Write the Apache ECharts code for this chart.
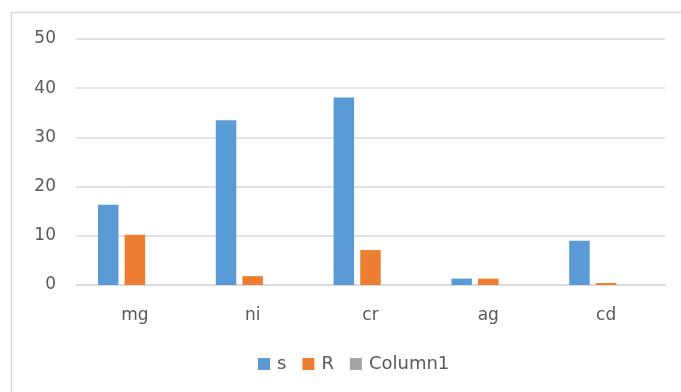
<!DOCTYPE html>
<html>
<head>
<meta charset="utf-8">
<script src="https://cdn.jsdelivr.net/npm/echarts@6/dist/echarts.min.js"></script>
<style>
  html, body { margin: 0; padding: 0; background: #ffffff; }
  #chart { width: 681px; height: 392px; }
</style>
</head>
<body>
<div id="chart"></div>
<script>
// Element categories and measured series
const categories = ['mg', 'ni', 'cr', 'ag', 'cd'];
const sValues = [16.3, 33.5, 38.1, 1.3, 9.0];
const rValues = [10.2, 1.8, 7.1, 1.3, 0.4];
const column1Values = [null, null, null, null, null];
const yTicks = { min: 0, max: 50, step: 10 };

const textColor = '#595959';
const gridColor = '#d9d9d9';
const fontFamily = 'DejaVu Sans, sans-serif';

const chart = echarts.init(document.getElementById('chart'), null, { renderer: 'canvas' });

function barSeries(name, data, color) {
  return {
    name: name,
    type: 'bar',
    data: data,
    barWidth: 20.5,
    barGap: '30%',
    itemStyle: { color: color },
    emphasis: { disabled: true }
  };
}

chart.setOption({
  backgroundColor: '#ffffff',
  animation: false,
  color: ['#5B9BD5', '#ED7D31', '#A5A5A5'],
  graphic: [{
    type: 'rect',
    shape: { x: 11.5, y: 12.5, width: 720, height: 420 },
    style: { fill: 'none', stroke: gridColor, lineWidth: 1.6 },
    silent: true,
    z: -1
  }],
  grid: { left: 76, right: 16, top: 39, bottom: 107 },
  legend: {
    left: 253,
    top: 350,
    itemWidth: 12,
    itemHeight: 12,
    itemGap: 16,
    icon: 'rect',
    textStyle: { color: textColor, fontSize: 18, fontFamily: fontFamily, padding: [0, 0, 0, 2] },
    data: ['s', 'R', 'Column1']
  },
  xAxis: {
    type: 'category',
    data: categories,
    axisLine: { lineStyle: { color: gridColor, width: 1.5 } },
    axisTick: { show: false },
    axisLabel: { color: textColor, fontSize: 17, fontFamily: fontFamily, margin: 22 }
  },
  yAxis: {
    type: 'value',
    min: yTicks.min,
    max: yTicks.max,
    interval: yTicks.step,
    axisLine: { show: false },
    axisTick: { show: false },
    splitLine: { lineStyle: { color: gridColor, width: 1.5 } },
    axisLabel: { color: textColor, fontSize: 17, fontFamily: fontFamily, margin: 20 }
  },
  series: [
    barSeries('s', sValues, '#5B9BD5'),
    barSeries('R', rValues, '#ED7D31'),
    barSeries('Column1', column1Values, '#A5A5A5')
  ]
});
</script>
</body>
</html>
